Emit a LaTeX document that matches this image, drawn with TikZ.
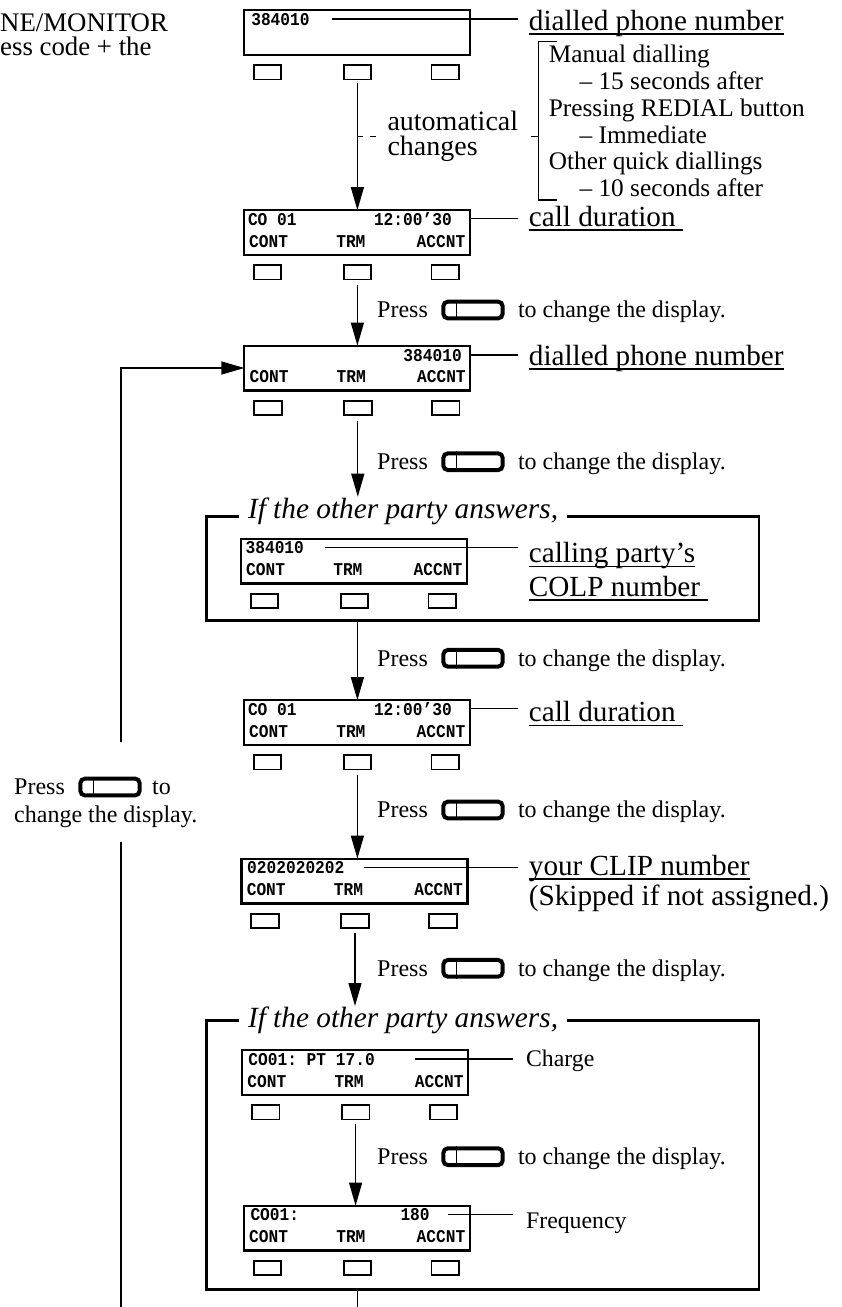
\documentclass[tikz,border=0pt]{standalone}
\usepackage{fontspec}
\setmainfont{Liberation Serif}
\setmonofont{Liberation Mono}[FakeStretch=0.9]
\usetikzlibrary{arrows.meta,calc}

\newcommand\lcdfont{\ttfamily\bfseries\fontsize{18}{20}\selectfont}
\newcommand\lblfont{\fontsize{29.2}{32}\selectfont}
\newcommand\prfont{\fontsize{24}{27}\selectfont}
\newcommand\brfont{\fontsize{25.3}{26.8}\selectfont}
\newcommand\autofont{\fontsize{28}{25.5}\selectfont}
\newcommand\smfont{\fontsize{23.8}{26}\selectfont}
\newcommand\ttlfont{\itshape\fontsize{29.3}{32}\selectfont}
\newcommand\topfont{\fontsize{26.8}{22}\selectfont}

% display box with its three keys: name, left, top
\newcommand\mklcd[3]{%
  \node[disp] (#1) at ({#2+114},{#3+23.5}) {};
  \node[btn] (#1-b1) at ({#2+24.5},{#3+63.3}) {};
  \node[btn] (#1-b2) at ({#2+114.5},{#3+63.3}) {};
  \node[btn] (#1-b3) at ({#2+202.4},{#3+63.3}) {};
}
% soft-key captions: name, left, top
\newcommand\mkrow[3]{%
  \node[lcd] (#1-c) at ({#2+6.1},{#3+38}) {CONT};
  \node[lcd] (#1-t) at ({#2+93.2},{#3+38}) {TRM};
  \node[lcd, anchor=base east] (#1-a) at ({#2+222.6},{#3+38}) {ACCNT};
}
% "Press [key] to change the display." row: name, y
\newcommand\mkpress[2]{%
  \node[txt, font=\prfont] (#1-p) at (377,{#2+7.8}) {Press};
  \node[pkey] (#1-k) at (473,#2) {};
  \draw[divl] ([xshift=15pt]#1-k.north west) -- ([xshift=15pt]#1-k.south west);
  \node[txt, font=\prfont] (#1-t) at (517.8,{#2+7.8}) {to change the display.};
}

\begin{document}
\begin{tikzpicture}[x=1pt,y=-1pt,
  txt/.style={inner sep=0pt, anchor=base west},
  disp/.style={draw, line width=2.2pt, minimum width=225.9pt, minimum height=44.8pt, inner sep=0pt, outer sep=0pt},
  btn/.style={draw, line width=1.8pt, minimum width=27.6pt, minimum height=14.2pt, inner sep=0pt},
  lcd/.style={font=\lcdfont, inner sep=0pt, anchor=base west},
  lbl/.style={font=\lblfont, inner sep=0pt, anchor=base west},
  sml/.style={font=\smfont, inner sep=0pt, anchor=base west},
  arr/.style={line width=1.3pt, -{Triangle[length=23pt,width=13pt]}},
  lead/.style={line width=1.3pt},
  ul/.style={line width=1.3pt},
  grp/.style={line width=2.8pt},
  divl/.style={line width=1.5pt},
  grpbox/.style={inner sep=0pt, outer sep=0pt, minimum width=552.9pt},
  ttl/.style={font=\ttlfont, inner xsep=8.7pt, inner ysep=0pt, anchor=base west},
  pkey/.style={draw, line width=4pt, rounded corners=4.5pt, minimum width=59.3pt, minimum height=16.7pt, inner sep=0pt},
]
\fill[white] (0,0) rectangle (841,1307);
\useasboundingbox (0,0) rectangle (841,1307);

% top-left cut text
\node[txt, font=\topfont] (tl1) at (0,31) {NE/MONITOR};
\node[txt, font=\topfont] (tl2) at (0,55) {ess code + the};

% displays
\mklcd{d1}{242.9}{9}
\node[lcd] (d1-r1) at (251.1,25) {384010};

\mklcd{d2}{242.9}{209}
\node[lcd] (d2-r1) at (247.8,225) {CO 01};
\node[lcd] (d2-r1b) at (373.8,225) {12:00’30};
\mkrow{d2}{242.9}{209}

\mklcd{d3}{243.3}{344.5}
\node[lcd] (d3-r1) at (403.2,361) {384010};
\mkrow{d3}{243.3}{344.5}

\mklcd{d4}{239.9}{537.5}
\node[lcd] (d4-r1) at (245.4,553.5) {384010};
\mkrow{d4}{239.9}{537.5}

\mklcd{d5}{242.9}{699}
\node[lcd] (d5-r1) at (247.8,715) {CO 01};
\node[lcd] (d5-r1b) at (373.8,715) {12:00’30};
\mkrow{d5}{242.9}{699}

\mklcd{d6}{240.5}{857.5}
\node[lcd] (d6-r1) at (247,873.5) {0202020202};
\mkrow{d6}{240.5}{857.5}

\mklcd{d7}{241.1}{1049}
\node[lcd] (d7-r1) at (248.2,1065) {CO01: PT 17.0};
\mkrow{d7}{241.1}{1049}

\mklcd{d8}{242.9}{1204.5}
\node[lcd] (d8-r1) at (250.3,1220.5) {CO01:};
\node[lcd] (d8-r1b) at (400.3,1220.5) {180};
\mkrow{d8}{242.9}{1204.5}

% labels
\node[lbl] (l1) at (528.7,30) {dialled phone number};
\node[lbl] (l2) at (528.7,226) {call duration};
\node[lbl] (l3) at (528.7,365) {dialled phone number};
\node[lbl] (l4a) at (528.7,562.7) {calling party’s};
\node[lbl] (l4b) at (528.7,596) {COLP number};
\node[lbl] (l5) at (528.7,721.7) {call duration};
\node[lbl] (l6a) at (528.7,875) {your CLIP number};
\node[lbl] (l6b) at (528.7,905) {(Skipped if not assigned.)};
\node[sml] (l7) at (525.9,1066.7) {Charge};
\node[sml] (l8) at (525.9,1228.3) {Frequency};

% underlines
\draw[ul] ($(l1.base west)+(0,4)$) -- ($(l1.base east)+(0,4)$);
\draw[ul] ($(l2.base west)+(0,4)$) -- ($(l2.base east)+(7.4,4)$);
\draw[ul] ($(l3.base west)+(0,4)$) -- ($(l3.base east)+(0,4)$);
\draw[ul] ($(l4a.base west)+(0,4)$) -- ($(l4a.base east)+(0,4)$);
\draw[ul] ($(l4b.base west)+(0,4)$) -- ($(l4b.base east)+(7.4,4)$);
\draw[ul] ($(l5.base west)+(0,4)$) -- ($(l5.base east)+(7.4,4)$);
\draw[ul] ($(l6a.base west)+(0,4)$) -- ($(l6a.base east)+(0,4)$);

% leader lines
\draw[lead] ($(d1-r1.east)+(22,0)$) -- ($(d1-r1.east -| l1.west)+(-11,0)$);
\draw[lead] ($(d2-r1b.east)+(18.4,0)$) -- ($(d2-r1b.east -| l2.west)+(-11,0)$);
\draw[lead] (d3.east |- d3-r1.east) -- ($(d3-r1.east -| l3.west)+(-11,0)$);
\draw[lead] ($(d4-r1.east)+(20.5,0)$) -- ($(d4-r1.east -| l4a.west)+(-11,0)$);
\draw[lead] ($(d5-r1b.east)+(17.2,0)$) -- ($(d5-r1b.east -| l5.west)+(-11,0)$);
\draw[lead] ($(d6-r1.east)+(19.1,0)$) -- ($(d6-r1.east -| l6a.west)+(-11,0)$);
\draw[lead] ($(d7-r1.east)+(40.5,0)$) -- ($(d7-r1.east -| l7.west)+(-13.1,0)$);
\draw[lead] ($(d8-r1b.east)+(18.4,0)$) -- ($(d8-r1b.east -| l8.west)+(-13.1,0)$);

% automatic change note and bracket
\node[font=\autofont, inner sep=0pt, align=left, anchor=west] (auto) at (387.3,136.5) {automatical\\changes};
\draw[lead, dash pattern=on 6pt off 7pt] (d1-b2.south |- auto.west) -- ($(auto.west)+(-8.2,0)$);
\coordinate (brt) at (538.5,41.7);
\coordinate (brb) at (538.5,200);
\draw[lead] ($(brt)+(18,0)$) -- (brt) -- (brb) -- ($(brb)+(18,0)$);
\draw[lead] ($(auto.east)+(12.5,0)$) -- (auto.east -| brt);
\node[txt, font=\brfont] (br1) at (548.7,62.7) {Manual dialling};
\node[txt, font=\brfont] (br2) at (579.4,89.5) {– 15 seconds after};
\node[txt, font=\brfont] (br3) at (548.7,116.3) {Pressing REDIAL button};
\node[txt, font=\brfont] (br4) at (579.4,143.1) {– Immediate};
\node[txt, font=\brfont] (br5) at (548.7,169.9) {Other quick diallings};
\node[txt, font=\brfont] (br6) at (579.4,196.7) {– 10 seconds after};

% press rows
\mkpress{p1}{310}
\mkpress{p2}{461.7}
\mkpress{p3}{658.3}
\mkpress{p4}{810}
\mkpress{p5}{968.3}
\mkpress{p6}{1156.7}

% groups
\node[grpbox, minimum height=104pt] (g1) at (482.55,568.7) {};
\node[ttl] (g1t) at (239.1,518) {If the other party answers,};
\draw[grp] (g1t.west |- g1.north) -- (g1.north west) -- (g1.south west) -- (g1.south east) -- (g1.north east) -- (g1t.east |- g1.north);

\node[grpbox, minimum height=268.6pt] (g2) at (482.55,1155) {};
\node[ttl] (g2t) at (239.1,1027) {If the other party answers,};
\draw[grp] (g2t.west |- g2.north) -- (g2.north west) -- (g2.south west) -- (g2.south east) -- (g2.north east) -- (g2t.east |- g2.north);

% main arrows
\coordinate (a3e) at (357.8,496.7);
\coordinate (a6e) at (355,1006);
\coordinate (bot) at (357.4,1307);
\draw[arr] ($(d1-b2.south)+(0,3)$) -- (d1-b2.south |- d2.north);
\draw[arr] ($(d2-b2.south)+(0,5)$) -- (d2-b2.south |- d3.north);
\draw[arr] ($(d3-b2.south)+(0,5)$) -- (a3e);
\draw[arr] (d5-b2 |- g1.south) -- (d5-b2 |- d5.north);
\draw[arr] ($(d5-b2.south)+(0,5)$) -- (d5-b2.south |- d6.north);
\draw[arr] ($(d6-b2.south)+(0,4)$) -- (a6e);
\draw[arr] ($(d7-b2.south)+(0,3.5)$) -- (d7-b2.south |- d8.north);
\draw[lead] (bot |- g2.south) -- (bot);

% left loop
\node[txt, font=\prfont] (lp1) at (14,794.8) {Press};
\node[pkey] (lpk) at (110,787) {};
\draw[divl] ([xshift=15pt]lpk.north west) -- ([xshift=15pt]lpk.south west);
\node[txt, font=\prfont] (lp2) at (152,794.8) {to};
\node[txt, font=\prfont] (lp3) at (14,822) {change the display.};
\coordinate (lup) at (121,742);
\coordinate (ldn) at (121,842);
\coordinate (lbot) at (121,1307);
\draw[arr] (lup) -- (lup |- d3.west) -- (d3.west);
\draw[lead] (ldn) -- (lbot);
\end{tikzpicture}
\end{document}
